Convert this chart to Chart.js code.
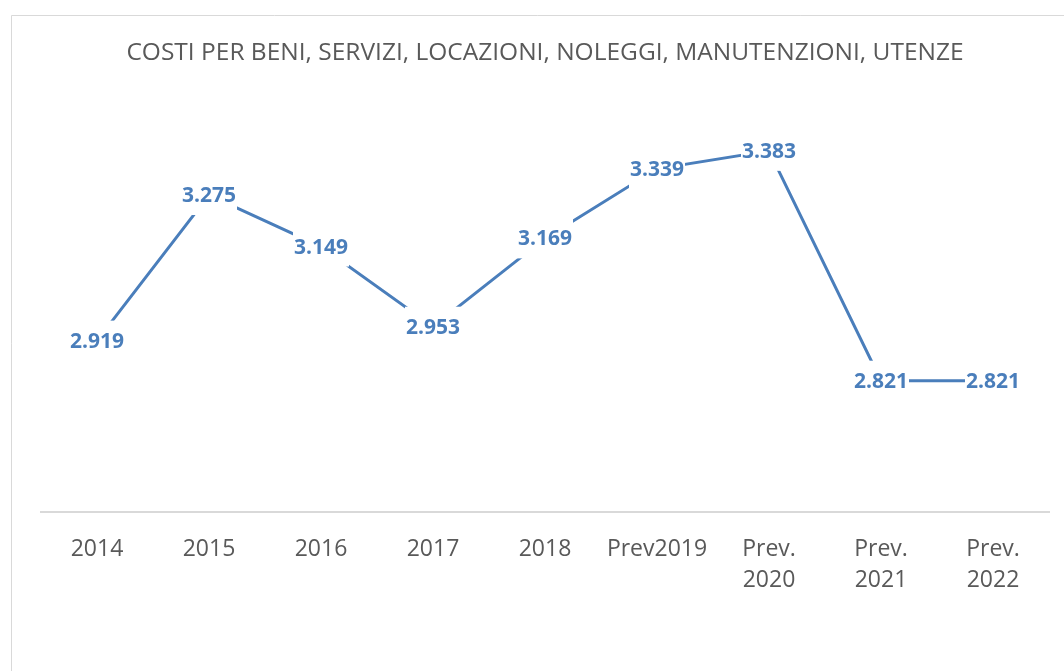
<!DOCTYPE html>
<html>
<head>
<meta charset="utf-8">
<script src="https://cdn.jsdelivr.net/npm/chart.js@4/dist/chart.umd.min.js"></script>
<style>
  html, body { margin: 0; padding: 0; background: #fff; overflow: hidden; }
  #wrap { position: absolute; left: 0; top: 0; width: 1064px; height: 671px; }
</style>
</head>
<body>
<div id="wrap"><canvas id="costi_line_chart"></canvas></div>
<script>
const chart_title = "COSTI PER BENI, SERVIZI, LOCAZIONI, NOLEGGI, MANUTENZIONI, UTENZE"
const categories = ["2014", "2015", "2016", "2017", "2018", "Prev2019", ["Prev.", "2020"], ["Prev.", "2021"], ["Prev.", "2022"]]
const costi_values = [2919, 3275, 3149, 2953, 3169, 3339, 3383, 2821, 2821]
const y_min = 2500
const y_max = 3500

const line_color = '#4a7ebb'
const text_grey = '#595959'

// italian style thousands: 2919 -> 2.919
function formatValue(v) {
    return Math.floor(v / 1000) + "." + String(v % 1000).padStart(3, "0")
}

// border of the excel chart box + title
const frame_plugin = {
    id: 'frame',
    beforeDraw(chart) {
        const ctx = chart.ctx
        ctx.save()
        ctx.fillStyle = '#fff'
        ctx.fillRect(0, 0, chart.width, chart.height)
        ctx.strokeStyle = '#d9d9d9'
        ctx.lineWidth = 1
        ctx.beginPath()
        ctx.moveTo(11.5, chart.height)
        ctx.lineTo(11.5, 15.5)
        ctx.lineTo(chart.width, 15.5)
        ctx.stroke()

        ctx.fillStyle = text_grey
        ctx.font = '24.5px "Open Sans"'
        ctx.textAlign = 'center'
        ctx.textBaseline = 'middle'
        const area = chart.chartArea
        ctx.fillText(chart_title, (area.left + area.right) / 2, 53)
        ctx.restore()
    }
}

// data labels centered on the points, with a white box that hides the line
const value_labels_plugin = {
    id: 'valueLabels',
    afterDatasetsDraw(chart) {
        const ctx = chart.ctx
        const meta = chart.getDatasetMeta(0)
        ctx.save()
        ctx.font = 'bold 21px "Open Sans"'
        ctx.textAlign = 'center'
        ctx.textBaseline = 'middle'
        meta.data.forEach((pt, i) => {
            const txt = formatValue(costi_values[i])
            const w = ctx.measureText(txt).width
            ctx.fillStyle = '#fff'
            ctx.fillRect(pt.x - w / 2 - 1, pt.y - 20, w + 2, 40)
            ctx.fillStyle = line_color
            ctx.fillText(txt, pt.x, pt.y + 1)
        })
        ctx.restore()
    }
}

const config = {
    type: 'line',
    data: {
        labels: categories,
        datasets: [{
            label: 'Costi',
            data: costi_values,
            borderColor: line_color,
            borderWidth: 3,
            pointRadius: 0,
            tension: 0,
            fill: false
        }]
    },
    options: {
        responsive: true,
        maintainAspectRatio: false,
        animation: false,
        layout: { padding: { left: 41, right: 15, top: 103, bottom: 0 } },
        plugins: {
            legend: { display: false },
            tooltip: { enabled: false },
            title: { display: false }
        },
        scales: {
            x: {
                offset: true,
                grid: { display: false, drawTicks: false },
                border: { display: true, color: '#d9d9d9', width: 2 },
                ticks: {
                    color: text_grey,
                    padding: 22,
                    maxRotation: 0,
                    autoSkip: false,
                    font: { family: '"Open Sans"', size: 23, lineHeight: 1.35 }
                },
                afterFit: (scale) => { scale.height = 159 }
            },
            y: {
                display: false,
                min: y_min,
                max: y_max
            }
        }
    },
    plugins: [frame_plugin, value_labels_plugin]
}

const myChart = new Chart(document.getElementById('costi_line_chart'), config)
</script>
</body>
</html>
